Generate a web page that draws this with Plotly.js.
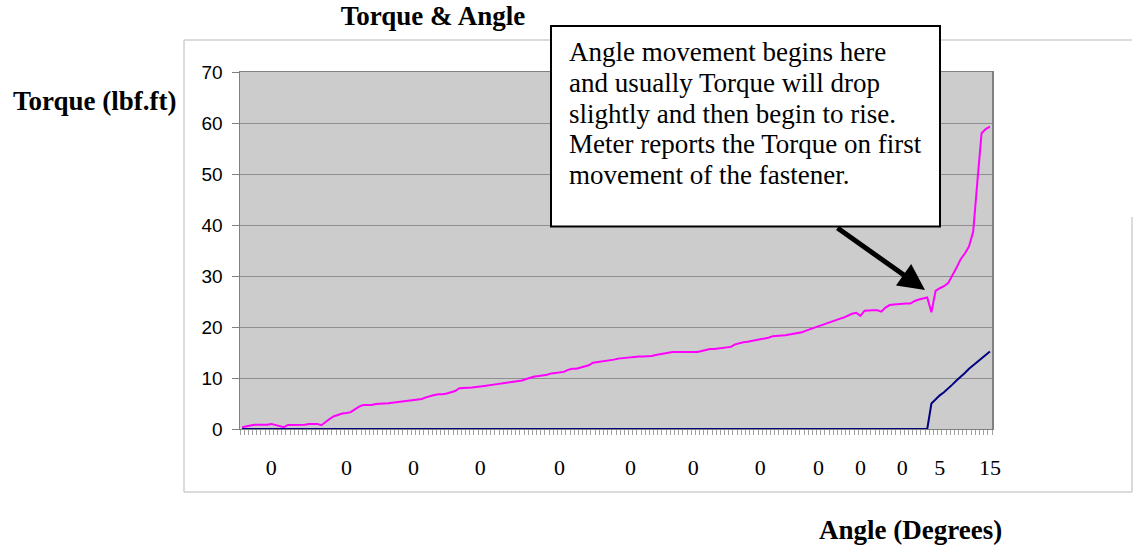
<!DOCTYPE html>
<html>
<head>
<meta charset="utf-8">
<script src="https://cdn.plot.ly/plotly-3.0.1.min.js"></script>
<style>html,body{margin:0;padding:0;background:#fff;}#chart{width:1135px;height:550px;}</style>
</head>
<body>
<div id="chart"></div>
<script>
// Torque (lbf.ft) per sample
const torque = [0.33,0.45,0.7,0.85,0.85,0.85,0.85,1.0,0.8,0.5,
0.35,0.8,0.8,0.8,0.85,0.85,1.0,1.05,1.0,0.75,
1.4,2.0,2.5,2.85,3.05,3.15,3.3,3.85,4.4,4.7,
4.7,4.7,4.9,5.0,5.0,5.05,5.15,5.25,5.4,5.5,
5.65,5.7,5.8,5.9,6.2,6.5,6.65,6.8,6.8,6.95,
7.2,7.45,8.0,8.1,8.1,8.15,8.3,8.35,8.45,8.6,
8.7,8.8,8.9,9.0,9.1,9.2,9.35,9.5,9.8,10.1,
10.3,10.4,10.5,10.65,10.9,11.0,11.05,11.2,11.6,11.8,
11.8,12.0,12.2,12.5,13.0,13.1,13.25,13.4,13.5,13.6,
13.8,13.9,13.95,14.1,14.2,14.2,14.2,14.2,14.3,14.5,
14.7,14.8,14.95,15.1,15.1,15.1,15.1,15.1,15.1,15.1,
15.3,15.5,15.7,15.7,15.8,15.95,16.0,16.1,16.6,16.85,
17.0,17.1,17.25,17.4,17.55,17.7,17.9,18.2,18.25,18.3,
18.4,18.55,18.65,18.8,18.95,19.3,19.6,19.95,20.2,20.5,
20.75,21.05,21.3,21.6,21.85,22.3,22.6,22.8,22.2,23.2,
23.3,23.3,23.3,23.0,23.8,24.3,24.4,24.5,24.6,24.6,
24.6,25.1,25.4,25.6,25.8,22.9,27.1,27.6,28.0,28.6,
30.0,31.6,33.3,34.4,35.8,38.7,48.5,58.0,58.8,59.3];

// Angle (degrees) per sample
const angle = [0,0,0,0,0,0,0,0,0,0,0,0,0,0,0,
0,0,0,0,0,0,0,0,0,0,0,0,0,0,0,
0,0,0,0,0,0,0,0,0,0,0,0,0,0,0,
0,0,0,0,0,0,0,0,0,0,0,0,0,0,0,
0,0,0,0,0,0,0,0,0,0,0,0,0,0,0,
0,0,0,0,0,0,0,0,0,0,0,0,0,0,0,
0,0,0,0,0,0,0,0,0,0,0,0,0,0,0,
0,0,0,0,0,0,0,0,0,0,0,0,0,0,0,
0,0,0,0,0,0,0,0,0,0,0,0,0,0,0,
0,0,0,0,0,0,0,0,0,0,0,0,0,0,0,
0,0,0,0,0,0,0,0,0,0,0,0,0,0,0,
5.0,5.9,6.6,7.2,7.9,8.7,9.5,10.2,11.0,11.8,12.5,13.2,13.9,14.6,15.2];

// Category labels shown on the x axis (sample index -> label)
const tickIndex = [7,25,41,57,76,93,108,124,138,148,158,167,179];
const tickText = ['0','0','0','0','0','0','0','0','0','0','0','5','15'];

const idx = torque.map((_, i) => i);

const serif = 'Liberation Serif, Times New Roman, serif';
const sans = 'Liberation Sans, Arial, sans-serif';

// helpers: pixel -> paper coordinates (plot area 240..992 x 72..429)
const L = 240, R = 992, T = 72, B = 429;
const px = x => (x - L) / (R - L);
const py = y => (B - y) / (B - T);

const boxLines = [
  'Angle movement begins here',
  'and usually Torque will drop',
  'slightly and then begin to rise.',
  'Meter reports the Torque on first',
  'movement of the fastener.'
];

const annotations = [
  {text: '<b>Torque (lbf.ft)</b>', xref: 'paper', yref: 'paper', x: px(11), y: py(101),
   xanchor: 'left', yanchor: 'middle', showarrow: false, font: {family: serif, size: 27, color: '#000'}},
  {text: '<b>Angle (Degrees)</b>', xref: 'paper', yref: 'paper', x: px(817), y: py(530),
   xanchor: 'left', yanchor: 'middle', showarrow: false, font: {family: serif, size: 27, color: '#000'}},
  {text: '', xref: 'paper', yref: 'paper', x: px(925), y: py(290), ax: -89, ay: -63,
   showarrow: true, arrowhead: 2, arrowsize: 1.05, arrowwidth: 5, arrowcolor: '#000', standoff: 0}
];
boxLines.forEach((t, k) => {
  annotations.push({text: t, xref: 'paper', yref: 'paper', x: px(567), y: py(52 + k * 30.8),
    xanchor: 'left', yanchor: 'middle', showarrow: false, font: {family: serif, size: 27, color: '#000'}});
});

const shapes = [
  // outer chart frame
  {type: 'line', xref: 'paper', yref: 'paper', x0: px(184), x1: px(1132), y0: py(40), y1: py(40), line: {color: '#cfcfcf', width: 1.5}},
  {type: 'line', xref: 'paper', yref: 'paper', x0: px(184), x1: px(184), y0: py(40), y1: py(492), line: {color: '#cfcfcf', width: 1.5}},
  {type: 'line', xref: 'paper', yref: 'paper', x0: px(184), x1: px(1132), y0: py(492), y1: py(492), line: {color: '#cfcfcf', width: 1.5}},
  {type: 'line', xref: 'paper', yref: 'paper', x0: px(1132), x1: px(1132), y0: py(217), y1: py(492), line: {color: '#cfcfcf', width: 1.5}},
  // callout box
  {type: 'rect', xref: 'paper', yref: 'paper', x0: px(551), x1: px(940), y0: py(26), y1: py(226.5),
   fillcolor: '#ffffff', line: {color: '#000', width: 2}, layer: 'above'}
];

const data = [
  {x: idx, y: torque, type: 'scatter', mode: 'lines', name: 'Torque',
   line: {color: '#ff00ff', width: 2}, hoverinfo: 'y'},
  {x: idx, y: angle, type: 'scatter', mode: 'lines', name: 'Angle',
   line: {color: '#000080', width: 2}, hoverinfo: 'y'}
];

const layout = {
  width: 1135, height: 550,
  margin: {l: L, r: 1135 - R, t: T, b: 550 - B, autoexpand: false},
  paper_bgcolor: '#ffffff',
  plot_bgcolor: '#cccccc',
  showlegend: false,
  title: {text: '<b>Torque &amp; Angle</b>', xref: 'container', yref: 'container',
          x: 433 / 1135, y: 1 - 16 / 550, xanchor: 'center', yanchor: 'middle',
          font: {family: serif, size: 27, color: '#000'}},
  xaxis: {
    range: [-0.5, torque.length - 0.5],
    tickmode: 'array', tickvals: tickIndex, ticktext: tickText,
    ticks: '', ticklabelstandoff: 19,
    tickfont: {family: serif, size: 22, color: '#000'},
    minor: {tickmode: 'linear', tick0: -0.5, dtick: 1, ticks: 'outside', ticklen: 5,
            tickcolor: '#a0a0a0', tickwidth: 1, showgrid: false},
    showgrid: false, zeroline: false,
    showline: true, linecolor: '#808080', linewidth: 1, mirror: true,
    fixedrange: true
  },
  yaxis: {
    range: [0, 70], tickmode: 'linear', tick0: 0, dtick: 10,
    ticks: 'outside', ticklen: 7, tickcolor: '#808080', ticklabelstandoff: 5,
    tickfont: {family: sans, size: 19, color: '#000'},
    showgrid: true, gridcolor: '#8f8f8f', gridwidth: 1,
    zeroline: false,
    showline: true, linecolor: '#808080', linewidth: 1.5, mirror: true,
    fixedrange: true
  },
  annotations: annotations,
  shapes: shapes
};

Plotly.newPlot('chart', data, layout, {displayModeBar: false, staticPlot: true});
</script>
</body>
</html>
